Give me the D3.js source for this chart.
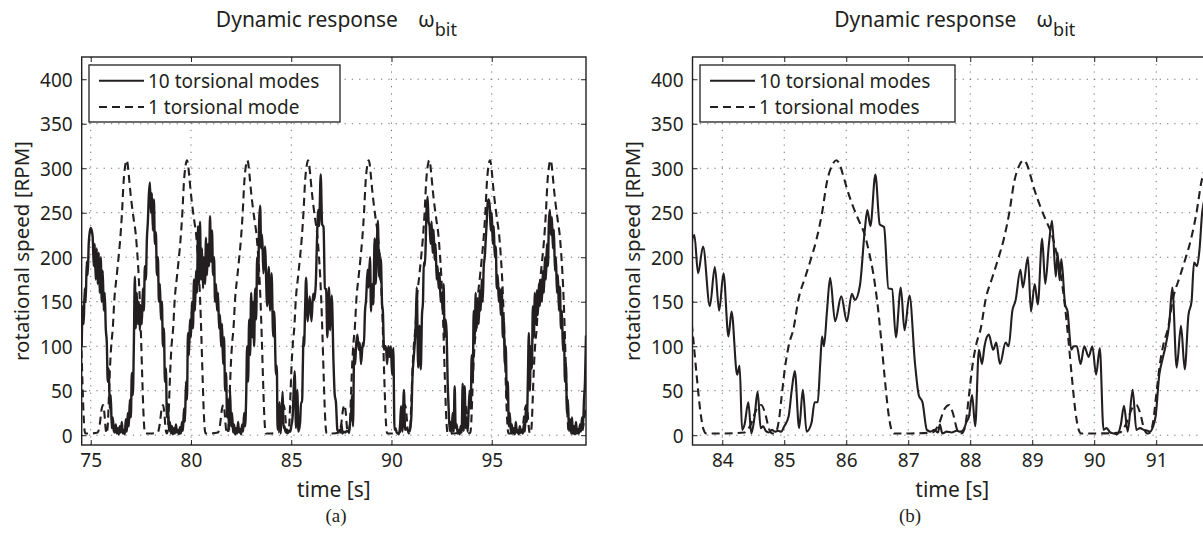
<!DOCTYPE html>
<html><head><meta charset="utf-8">
<script src="https://cdn.jsdelivr.net/npm/d3@7"></script>
<style>
body{margin:0;background:#fff;}
svg{display:block;}
text{fill:#231f20;}
</style></head><body>
<svg id="chart" width="1203" height="542"></svg>
<script>
// ---------- data (time [s], rotational speed [RPM]) ----------
const yTickValues = [0, 50, 100, 150, 200, 250, 300, 350, 400];
const xTicksA = [75, 80, 85, 90, 95];
const xTicksB = [84, 85, 86, 87, 88, 89, 90, 91];
const legendA = ["10 torsional modes", "1 torsional mode"];
const legendB = ["10 torsional modes", "1 torsional modes"];

// 10 torsional modes, early part
const tenModesEarly = [
[74.55,100],[74.60,145],[74.65,125],[74.70,165],[74.75,150],[74.80,195],[74.85,180],[74.90,215],[74.95,228],[75.00,233],
[75.05,230],[75.10,222],[75.15,190],[75.20,215],[75.25,175],[75.30,210],[75.35,170],[75.40,205],[75.45,160],[75.50,200],
[75.55,150],[75.60,185],[75.65,140],[75.70,160],[75.75,120],[75.80,105],[75.85,60],[75.90,75],[75.95,30],[76.00,45],
[76.05,8],[76.10,20],[76.15,5],[76.20,3],[76.25,12],[76.30,2],[76.35,8],[76.40,1],[76.45,10],[76.50,3],
[76.55,15],[76.60,2],[76.65,6],[76.70,1],[76.75,18],[76.80,4],[76.85,25],[76.90,10],[76.95,40],[77.00,20],
[77.05,70],[77.10,45],[77.15,100],[77.20,178],[77.25,120],[77.30,160],[77.35,125],[77.40,150],[77.45,118],[77.50,145],
[77.55,125],[77.60,165],[77.65,140],[77.70,190],[77.75,175],[77.80,220],[77.85,240],[77.90,270],[77.95,284],[78.00,250],
[78.05,272],[78.10,230],[78.15,265],[78.20,215],[78.25,228],[78.30,180],[78.35,200],[78.40,150],[78.45,170],[78.50,130],
[78.55,150],[78.60,100],[78.65,120],[78.70,60],[78.75,75],[78.80,20],[78.85,35],[78.90,5],[78.95,15],[79.00,2],
[79.05,10],[79.10,1],[79.15,8],[79.20,2],[79.25,12],[79.30,3],[79.35,6],[79.40,1],[79.45,9],[79.50,2],
[79.55,15],[79.60,5],[79.65,30],[79.70,15],[79.75,60],[79.80,40],[79.85,115],[79.90,90],[79.95,130],[80.00,110],
[80.05,150],[80.10,120],[80.15,175],[80.20,140],[80.25,185],[80.30,160],[80.35,235],[80.40,170],[80.45,240],[80.50,175],
[80.55,210],[80.60,165],[80.65,200],[80.70,170],[80.75,222],[80.80,180],[80.85,215],[80.90,190],[80.95,246],[81.00,195],
[81.05,230],[81.10,180],[81.15,200],[81.20,150],[81.25,170],[81.30,140],[81.35,160],[81.40,120],[81.45,135],[81.50,100],
[81.55,125],[81.60,80],[81.65,110],[81.70,50],[81.75,70],[81.80,20],[81.85,40],[81.90,5],[81.95,50],[82.00,10],
[82.05,25],[82.10,3],[82.15,12],[82.20,1],[82.25,8],[82.30,2],[82.35,15],[82.40,3],[82.45,7],[82.50,1],
[82.55,12],[82.60,4],[82.65,25],[82.70,10],[82.75,40],[82.80,100],[82.85,60],[82.90,130],[82.95,90],[83.00,160],
[83.05,110],[83.10,150],[83.15,100],[83.20,165],[83.25,130],[83.30,200],[83.35,170],[83.40,240],[83.45,258],[83.50,210]
];

// 10 torsional modes, detailed part (panel b range)
const tenModesMiddle = [
[83.52,221],[83.55,225],[83.61,182],[83.69,212],[83.80,145],[83.88,189],[83.95,140],[84.02,182],[84.10,111],[84.15,139],
[84.24,68],[84.28,78],[84.32,6],[84.36,12],[84.42,37],[84.47,2],[84.52,20],[84.57,49],[84.62,8],[84.66,10],
[84.70,5],[84.75,3],[84.80,6],[84.85,4],[84.90,5],[84.95,4],[85.00,10],[85.07,21],[85.12,50],[85.17,72],
[85.24,8],[85.30,51],[85.36,4],[85.44,14],[85.49,37],[85.54,37],[85.58,80],[85.61,111],[85.64,100],[85.69,140],
[85.74,177],[85.82,128],[85.92,156],[86.01,128],[86.09,159],[86.14,152],[86.22,168],[86.30,231],[86.34,253],[86.39,235],
[86.47,293],[86.54,237],[86.61,234],[86.68,165],[86.74,164],[86.80,110],[86.88,166],[86.94,118],[87.02,157],[87.11,80],
[87.17,45],[87.23,37],[87.30,6],[87.36,4],[87.42,6],[87.48,3],[87.51,12],[87.55,2],[87.62,4],[87.70,3],
[87.78,5],[87.84,4],[87.89,6],[87.94,15],[87.98,21],[88.03,45],[88.08,10],[88.14,96],[88.19,80],[88.23,100],
[88.30,113],[88.37,96],[88.42,104],[88.48,80],[88.57,104],[88.62,100],[88.68,140],[88.73,151],[88.81,186],[88.85,166],
[88.93,200],[88.98,139],[89.04,170],[89.09,147],[89.16,221],[89.21,170],[89.27,215],[89.32,241],[89.38,178],[89.41,205],
[89.44,174],[89.47,198],[89.53,147],[89.57,139],[89.63,96],[89.67,100],[89.72,100],[89.78,80],[89.84,100],[89.91,88],
[89.97,100],[90.03,68],[90.09,98],[90.15,6],[90.20,8],[90.26,3],[90.32,2],[90.37,1],[90.43,12],[90.48,33],
[90.54,4],[90.62,51],[90.68,6],[90.74,8],[90.80,6],[90.86,5],[90.90,4],[90.95,10],[90.99,21],[91.05,68],
[91.10,85],[91.15,100],[91.21,125],[91.26,166],[91.33,76],[91.40,123],[91.46,74],[91.52,135],[91.57,150],[91.61,194],
[91.66,190],[91.70,210],[91.74,249]
];

// 10 torsional modes, late part
const tenModesLate = [
[91.80,268],[91.85,240],[91.90,235],[91.95,215],[92.00,240],[92.05,205],[92.10,231],[92.15,197],[92.20,215],[92.25,175],
[92.30,190],[92.35,165],[92.40,182],[92.45,150],[92.50,160],[92.55,140],[92.60,170],[92.65,110],[92.70,130],[92.75,115],
[92.80,60],[92.85,30],[92.90,5],[92.95,15],[93.00,2],[93.05,25],[93.10,4],[93.15,55],[93.20,8],[93.25,12],
[93.30,2],[93.35,6],[93.40,1],[93.45,10],[93.50,3],[93.55,58],[93.60,5],[93.65,55],[93.70,8],[93.75,20],
[93.80,4],[93.85,30],[93.90,50],[93.95,30],[94.00,90],[94.05,60],[94.10,140],[94.15,110],[94.20,160],[94.25,120],
[94.30,150],[94.35,125],[94.40,163],[94.45,140],[94.50,175],[94.55,150],[94.60,190],[94.65,200],[94.70,220],[94.75,240],
[94.80,262],[94.85,265],[94.90,257],[94.95,230],[95.00,250],[95.05,215],[95.10,235],[95.15,200],[95.20,212],[95.25,165],
[95.30,180],[95.35,150],[95.40,165],[95.45,135],[95.50,165],[95.55,110],[95.60,130],[95.65,80],[95.70,100],[95.75,40],
[95.80,60],[95.85,10],[95.90,25],[95.95,3],[96.00,12],[96.05,2],[96.10,8],[96.15,1],[96.20,15],[96.25,3],
[96.30,6],[96.35,1],[96.40,10],[96.45,3],[96.50,5],[96.55,2],[96.60,12],[96.65,4],[96.70,30],[96.75,15],
[96.80,60],[96.85,115],[96.90,50],[96.95,100],[97.00,75],[97.05,145],[97.10,110],[97.15,160],[97.20,125],[97.25,163],
[97.30,135],[97.35,170],[97.40,145],[97.45,175],[97.50,150],[97.55,185],[97.60,160],[97.65,200],[97.70,175],[97.75,215],
[97.80,190],[97.85,240],[97.90,253],[97.95,225],[98.00,245],[98.05,210],[98.10,231],[98.15,185],[98.20,200],[98.25,160],
[98.30,180],[98.35,140],[98.40,167],[98.45,120],[98.50,140],[98.55,95],[98.60,115],[98.65,60],[98.70,80],[98.75,25],
[98.80,40],[98.85,5],[98.90,18],[98.95,3],[99.00,20],[99.05,2],[99.10,10],[99.15,1],[99.20,15],[99.25,3],
[99.30,7],[99.35,2],[99.40,12],[99.45,4],[99.50,20],[99.55,10],[99.60,40],[99.65,60],[99.70,112]
];

// 1 torsional mode
const oneMode = [
[74.50,110],[74.55,88],[74.58,65],[74.64,25],[74.69,6],[74.73,2],[75.00,2],[75.35,3],[75.45,12],[75.55,30],[75.62,34],[75.68,25],[75.75,6],[75.80,2],
[75.81,3],[75.86,15],[75.91,45],[75.97,80],[76.03,103],[76.10,120],[76.18,153],[76.29,178],[76.38,198],[76.47,220],[76.56,250],[76.64,285],[76.72,303],[76.79,309],
[76.84,305],[76.90,292],[76.97,275],[77.06,257],[77.16,240],[77.24,227],[77.32,205],[77.39,180],[77.45,150],[77.51,110],[77.57,65],[77.63,25],[77.68,6],[77.72,2],
[77.99,2],[78.34,3],[78.44,12],[78.54,30],[78.61,34],[78.67,25],[78.74,6],[78.79,2],
[78.82,3],[78.87,15],[78.92,45],[78.98,80],[79.04,103],[79.11,120],[79.19,153],[79.30,178],[79.39,198],[79.48,220],[79.57,250],[79.65,285],[79.73,303],[79.80,309],
[79.85,305],[79.91,292],[79.98,275],[80.07,257],[80.17,240],[80.25,227],[80.33,205],[80.40,180],[80.46,150],[80.52,110],[80.58,65],[80.64,25],[80.69,6],[80.73,2],
[81.00,2],[81.35,3],[81.45,12],[81.55,30],[81.62,34],[81.68,25],[81.75,6],[81.80,2],
[81.83,3],[81.88,15],[81.93,45],[81.99,80],[82.05,103],[82.12,120],[82.20,153],[82.31,178],[82.40,198],[82.49,220],[82.58,250],[82.66,285],[82.74,303],[82.81,309],
[82.86,305],[82.92,292],[82.99,275],[83.08,257],[83.18,240],[83.26,227],[83.34,205],[83.41,180],[83.47,150],[83.53,110],[83.59,65],[83.65,25],[83.70,6],[83.74,2],
[84.01,2],[84.36,3],[84.46,12],[84.56,30],[84.63,34],[84.69,25],[84.76,6],[84.81,2],
[84.86,3],[84.91,15],[84.96,45],[85.02,80],[85.08,103],[85.15,120],[85.23,153],[85.34,178],[85.43,198],[85.52,220],[85.61,250],[85.69,285],[85.77,303],[85.84,309],
[85.89,305],[85.95,292],[86.02,275],[86.11,257],[86.21,240],[86.29,227],[86.37,205],[86.44,180],[86.50,150],[86.56,110],[86.62,65],[86.68,25],[86.73,6],[86.77,2],
[87.04,2],[87.39,3],[87.49,12],[87.59,30],[87.66,34],[87.72,25],[87.79,6],[87.84,2],
[87.88,3],[87.93,15],[87.98,45],[88.04,80],[88.10,103],[88.17,120],[88.25,153],[88.36,178],[88.45,198],[88.54,220],[88.63,250],[88.71,285],[88.79,303],[88.86,309],
[88.91,305],[88.97,292],[89.04,275],[89.13,257],[89.23,240],[89.31,227],[89.39,205],[89.46,180],[89.52,150],[89.58,110],[89.64,65],[89.70,25],[89.75,6],[89.79,2],
[90.06,2],[90.41,3],[90.51,12],[90.61,30],[90.68,34],[90.74,25],[90.81,6],[90.86,2],
[90.90,3],[90.95,15],[91.00,45],[91.06,80],[91.12,103],[91.19,120],[91.27,153],[91.38,178],[91.47,198],[91.56,220],[91.65,250],[91.73,285],[91.81,303],[91.88,309],
[91.93,305],[91.99,292],[92.06,275],[92.15,257],[92.25,240],[92.33,227],[92.41,205],[92.48,180],[92.54,150],[92.60,110],[92.66,65],[92.72,25],[92.77,6],[92.81,2],
[93.08,2],[93.43,3],[93.53,12],[93.63,30],[93.70,34],[93.76,25],[93.83,6],[93.88,2],
[93.93,3],[93.98,15],[94.03,45],[94.09,80],[94.15,103],[94.22,120],[94.30,153],[94.41,178],[94.50,198],[94.59,220],[94.68,250],[94.76,285],[94.84,303],[94.91,309],
[94.96,305],[95.02,292],[95.09,275],[95.18,257],[95.28,240],[95.36,227],[95.44,205],[95.51,180],[95.57,150],[95.63,110],[95.69,65],[95.75,25],[95.80,6],[95.84,2],
[96.11,2],[96.46,3],[96.56,12],[96.66,30],[96.73,34],[96.79,25],[96.86,6],[96.91,2],
[96.95,3],[97.00,15],[97.05,45],[97.11,80],[97.17,103],[97.24,120],[97.32,153],[97.43,178],[97.52,198],[97.61,220],[97.70,250],[97.78,285],[97.86,303],[97.93,309],
[97.98,305],[98.04,292],[98.11,275],[98.20,257],[98.30,240],[98.38,227],[98.46,205],[98.53,180],[98.59,150],[98.65,110],[98.71,65],[98.77,25],[98.82,6],[98.86,2],
[99.13,2],[99.48,3],[99.58,12],[99.68,30],[99.75,34]
];

const tenModes = tenModesEarly.concat(tenModesMiddle, tenModesLate);

// ---------- drawing ----------
const ink = "#231f20";
const sans = '"Noto Sans", sans-serif';
const serif = '"Liberation Serif", "Times New Roman", serif';
const svg = d3.select("#chart");
const TOP = 57, BOTTOM = 445;

const panels = [
  {id:"a", x0:81.7, x1:586, dom:[74.55, 99.7], ticks:xTicksA, legend:legendA, lx:89, lw:251, ylabX:22, cap:"(a)", capX:336, solidW:2.4},
  {id:"b", x0:692.5, x1:1212, dom:[83.52, 91.9], ticks:xTicksB, legend:legendB, lx:700, lw:255, ylabX:633, cap:"(b)", capX:910, solidW:2.1}
];

panels.forEach(p => {
  const x = d3.scaleLinear().domain(p.dom).range([p.x0, p.x1]);
  const y = d3.scaleLinear().domain([-11, 425]).range([BOTTOM, TOP]);
  const g = svg.append("g").style("font-family", sans);
  const W = p.x1 - p.x0, H = BOTTOM - TOP;

  g.append("clipPath").attr("id", "clip" + p.id)
    .append("rect").attr("x", p.x0).attr("y", TOP).attr("width", W).attr("height", H);

  // grid
  const grid = g.append("g").attr("stroke", "#777").attr("stroke-width", 1).attr("stroke-dasharray", "1.3,6");
  grid.selectAll(".gx").data(p.ticks).join("line")
    .attr("x1", d => x(d)).attr("x2", d => x(d)).attr("y1", BOTTOM).attr("y2", TOP);
  grid.selectAll(".gy").data(yTickValues).join("line")
    .attr("x1", p.x0).attr("x2", p.x1).attr("y1", d => y(d)).attr("y2", d => y(d));

  // data lines
  const line = d3.line().x(d => x(d[0])).y(d => y(d[1])).curve(d3.curveMonotoneX);
  const dg = g.append("g").attr("clip-path", `url(#clip${p.id})`);
  dg.append("path").datum(oneMode).attr("d", line).attr("fill", "none")
    .attr("stroke", ink).attr("stroke-width", 2.1).attr("stroke-dasharray", "8,5");
  dg.append("path").datum(tenModes).attr("d", line).attr("fill", "none")
    .attr("stroke", ink).attr("stroke-width", p.solidW).attr("stroke-linejoin", "round");

  // axes
  const fs = 19;
  const ax = g.append("g").attr("transform", `translate(0,${BOTTOM})`)
    .call(d3.axisBottom(x).tickValues(p.ticks).tickSize(-5).tickPadding(9).tickFormat(d3.format("d")));
  const axTop = g.append("g").attr("transform", `translate(0,${TOP})`)
    .call(d3.axisTop(x).tickValues(p.ticks).tickSize(-5).tickFormat(""));
  const ay = g.append("g").attr("transform", `translate(${p.x0},0)`)
    .call(d3.axisLeft(y).tickValues(yTickValues).tickSize(-5).tickPadding(9).tickFormat(d3.format("d")));
  const ayR = g.append("g").attr("transform", `translate(${p.x1},0)`)
    .call(d3.axisRight(y).tickValues(yTickValues).tickSize(-5).tickFormat(""));
  [ax, axTop, ay, ayR].forEach(a => {
    a.attr("font-family", null).attr("font-size", null);
    a.select(".domain").remove();
    a.selectAll(".tick line").attr("stroke", ink).attr("stroke-width", 1);
    a.selectAll("text").style("font-size", fs + "px").style("font-family", sans).attr("fill", ink);
  });
  ay.selectAll("text").attr("dy", "0.36em");

  // frame
  g.append("rect").attr("x", p.x0).attr("y", TOP).attr("width", W).attr("height", H)
    .attr("fill", "none").attr("stroke", ink).attr("stroke-width", 1.4);

  // legend
  const lg = g.append("g");
  lg.append("rect").attr("x", p.lx).attr("y", 65).attr("width", p.lw).attr("height", 57)
    .attr("fill", "#fff").attr("stroke", ink).attr("stroke-width", 1.3);
  [[80.7, null], [107, "8,5"]].forEach((r, i) => {
    lg.append("line").attr("x1", p.lx + 10).attr("x2", p.lx + 55).attr("y1", r[0]).attr("y2", r[0])
      .attr("stroke", ink).attr("stroke-width", 2).attr("stroke-dasharray", r[1]);
    lg.append("text").attr("x", p.lx + 59).attr("y", r[0]).attr("dy", "0.36em")
      .style("font-size", "19px").text(p.legend[i]);
  });

  // labels
  const cx = (p.x0 + p.x1) / 2;
  g.append("text").attr("x", cx).attr("y", 497).attr("text-anchor", "middle")
    .style("font-size", "21px").text("time [s]");
  g.append("text").attr("transform", `translate(${p.ylabX},${(TOP + BOTTOM) / 2}) rotate(-90)`)
    .attr("text-anchor", "middle").attr("dy", "0.36em").style("font-size", "20.5px").text("rotational speed [RPM]");
  const t = g.append("text").attr("x", cx - 118).attr("y", 27).style("font-size", "21px");
  t.append("tspan").text("Dynamic response");
  t.append("tspan").attr("dx", 20).text("ω");
  t.append("tspan").attr("dy", 9).style("font-size", "18px").text("bit");
  g.append("text").attr("x", p.capX).attr("y", 522).attr("text-anchor", "middle")
    .style("font-family", serif).style("font-size", "19px").text(p.cap);
});
</script>
</body></html>
